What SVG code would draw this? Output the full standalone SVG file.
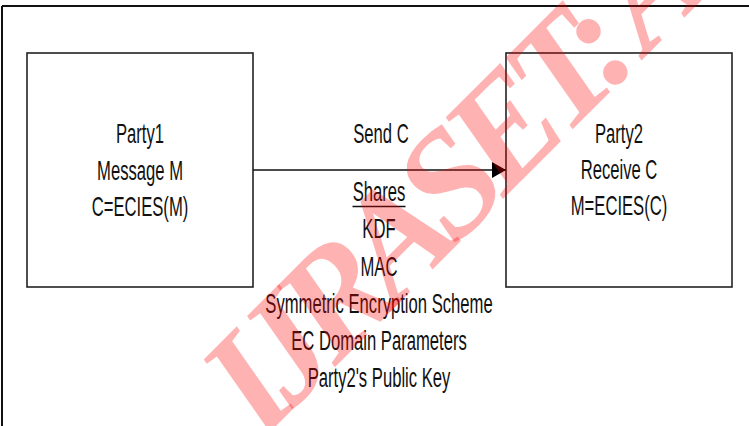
<svg xmlns="http://www.w3.org/2000/svg" width="749" height="426" viewBox="0 0 749 426">
<style>
.box{fill:#fff;stroke:#222;stroke-width:1.6}
.t{font-family:"Liberation Sans",Arial,sans-serif;font-size:27.5px;fill:#111;text-anchor:middle}
.edge{stroke:#111;stroke-width:1.6;fill:none}
.wm{font-family:"Liberation Serif","Times New Roman",serif;font-size:150px;font-weight:bold;font-style:italic;letter-spacing:-15px;fill:#ff0000;fill-opacity:0.3}
</style>
<defs>
<marker id="ah" markerWidth="14" markerHeight="16" refX="14" refY="8" orient="auto" markerUnits="userSpaceOnUse">
<path d="M0,0 L14,8 L0,16 Z" fill="#000"/>
</marker>
</defs>
<rect x="0" y="0" width="749" height="426" fill="#fff"/>
<g id="frame">
<line x1="2" y1="6" x2="749" y2="6" stroke="#111" stroke-width="2"/>
<line x1="2" y1="6" x2="2" y2="426" stroke="#111" stroke-width="2"/>
</g>
<g id="party1">
<rect class="box" x="27" y="53" width="226" height="234"/>
<text class="t" transform="translate(140,142.7) scale(0.605,1)">Party1</text>
<text class="t" transform="translate(140,179.5) scale(0.605,1)">Message M</text>
<text class="t" transform="translate(140,216) scale(0.605,1)">C=ECIES(M)</text>
</g>
<g id="party2">
<rect class="box" x="506" y="53" width="226" height="234"/>
<text class="t" transform="translate(619,142.7) scale(0.605,1)">Party2</text>
<text class="t" transform="translate(619,178.5) scale(0.605,1)">Receive C</text>
<text class="t" transform="translate(619,214.5) scale(0.605,1)">M=ECIES(C)</text>
</g>
<g id="connectors">
<line class="edge" x1="253" y1="170" x2="506" y2="170" marker-end="url(#ah)"/>
<text class="t" transform="translate(381,142.7) scale(0.605,1)">Send C</text>
</g>
<g id="shares">
<text class="t" transform="translate(379,201) scale(0.605,1)">Shares</text>
<line x1="352.5" y1="206.5" x2="405.5" y2="206.5" stroke="#111" stroke-width="1.6"/>
<text class="t" transform="translate(379,238) scale(0.605,1)">KDF</text>
<text class="t" transform="translate(379,275.5) scale(0.605,1)">MAC</text>
<text class="t" transform="translate(379,313) scale(0.605,1)">Symmetric Encryption Scheme</text>
<text class="t" transform="translate(379,350) scale(0.605,1)">EC Domain Parameters</text>
<text class="t" transform="translate(379,387) scale(0.605,1)">Party2's Public Key</text>
</g>
<text class="wm" transform="translate(262,440) rotate(-45)">IJRASET: A</text>
</svg>
